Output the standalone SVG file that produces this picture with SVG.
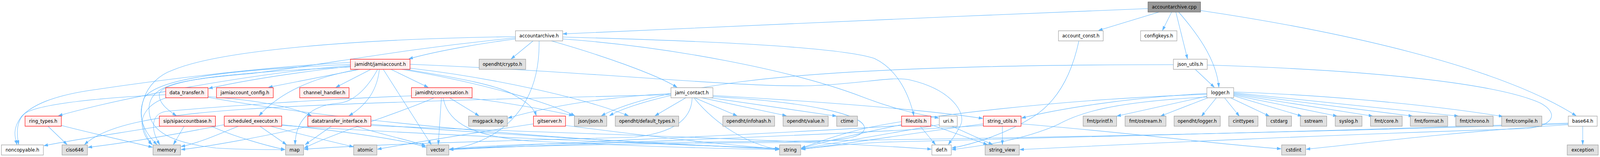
<svg xmlns="http://www.w3.org/2000/svg" width="4538" height="403" viewBox="0 0 4538 403" preserveAspectRatio="none">
<style>
:root{width:100vw;height:100vh}
.e{fill:none;stroke:#63b8ff;stroke-width:1.1;marker-end:url(#a)}
.n rect{stroke-width:1.2}
.w rect{fill:#ffffff;stroke:#999999}
.g rect{fill:#e0e0e0;stroke:#999999}
.r rect{fill:#fff0f0;stroke:#ff0000}
.root rect{fill:#999999;stroke:#666666}
text{font-family:"DejaVu Sans","Liberation Sans",sans-serif;font-size:13px;fill:#000;text-anchor:middle}
</style>
<defs>
<marker id="a" viewBox="0 0 12 8" refX="11" refY="4" markerWidth="12" markerHeight="8" markerUnits="userSpaceOnUse" orient="auto">
<path d="M0,0.5 L11,4 L0,7.5 z" fill="#63b8ff" stroke="#63b8ff"/>
</marker>
</defs>
<rect width="4538" height="403" fill="#ffffff"/>
<g id="edges">
<path class="e" d="M3256,22 C2700,42 2100,66 1597,87"/>
<path class="e" d="M3287,31 L3116,78"/>
<path class="e" d="M3323,31 L3297,78"/>
<path class="e" d="M3335,31 L3368,151"/>
<path class="e" d="M3343,31 C3390,80 3450,150 3457,224"/>
<path class="e" d="M3405,27 C3800,80 4250,170 4470,297"/>
<path class="e" d="M1462,100 C1350,113 1230,133 1160,151"/>
<path class="e" d="M1512,105 L1450,151"/>
<path class="e" d="M1529,105 C1532,260 1440,360 1274,384"/>
<path class="e" d="M1564,105 C1700,140 1860,190 1920,224"/>
<path class="e" d="M1596,95 C2000,105 2380,120 2480,150 C2550,180 2580,250 2592,297"/>
<path class="e" d="M1462,94 C1000,100 620,130 490,180 C410,205 370,290 430,371"/>
<path class="e" d="M1462,97 C1100,130 900,170 700,190 C500,205 430,220 423,273 C418,330 470,365 613,380 C700,385 760,384 808,384"/>
<path class="e" d="M1596,100 C1900,120 2250,180 2450,250 C2550,285 2620,295 2662,303"/>
<path class="e" d="M3060,105 C3040,190 3000,260 2930,300 C2850,345 2760,370 2700,380"/>
<path class="e" d="M3390,178 L3444,224"/>
<path class="e" d="M3328,166 C2900,166 2400,175 2100,210 C1900,235 1780,262 1706,297"/>
<path class="e" d="M3424,167 C3900,180 4250,215 4370,265 C4420,290 4410,322 4330,330 C3800,345 3200,370 2893,384"/>
<path class="e" d="M3423,247 L3168,298"/>
<path class="e" d="M3426,251 L3292,298"/>
<path class="e" d="M3450,251 L3408,298"/>
<path class="e" d="M3473,251 L3515,298"/>
<path class="e" d="M3490,251 L3600,298"/>
<path class="e" d="M3499,246 L3692,298"/>
<path class="e" d="M3499,244 L3792,298"/>
<path class="e" d="M3499,242 L3893,298"/>
<path class="e" d="M3499,240 L4006,298"/>
<path class="e" d="M3499,238 L4136,298"/>
<path class="e" d="M3499,236 C3800,245 4100,275 4262,299"/>
<path class="e" d="M3423,240 C3200,250 3000,280 2898,303"/>
<path class="e" d="M3423,242 C3000,255 2600,300 2450,330 C2380,345 2320,365 2273,380"/>
<path class="e" d="M3423,249 C3150,262 3060,290 3000,320 C2900,360 2780,375 2700,384"/>
<path class="e" d="M4489,324 L4489,371"/>
<path class="e" d="M4448,320 C4100,340 3850,370 3705,383"/>
<path class="e" d="M4448,316 C3800,335 3000,355 2500,365 C2400,370 2320,378 2273,383"/>
<path class="e" d="M4448,318 C3500,345 2500,362 1800,366 C1500,368 1350,375 1275,383"/>
<path class="e" d="M2610,324 L2653,371"/>
<path class="e" d="M2640,320 L2800,371"/>
<path class="e" d="M2557,320 C2450,340 2330,365 2273,381"/>
<path class="e" d="M2557,322 C2200,345 1500,368 1275,384"/>
<path class="e" d="M2700,324 L2815,371"/>
<path class="e" d="M2664,320 C2500,345 2350,370 2273,382"/>
<path class="e" d="M2843,324 L2843,371"/>
<path class="e" d="M2789,318 C2600,340 2400,370 2273,383"/>
<path class="e" d="M2789,322 C2300,350 1600,370 1275,384"/>
<path class="e" d="M2896,318 C3200,340 3450,370 3633,382"/>
<path class="e" d="M1513,318 C1350,340 1150,370 1071,383"/>
<path class="e" d="M1604,322 C1800,345 2050,372 2209,382"/>
<path class="e" d="M1231,251 C1150,285 950,340 863,380"/>
<path class="e" d="M1252,251 L1243,371"/>
<path class="e" d="M1257,251 C1270,320 1350,350 1500,362 C1800,375 2050,382 2209,384"/>
<path class="e" d="M1275,251 L1358,297"/>
<path class="e" d="M1326,251 C1450,265 1570,285 1625,297"/>
<path class="e" d="M1167,246 C900,255 600,275 470,286 C430,292 425,330 453,371"/>
<path class="e" d="M994,170 C850,185 700,205 592,227"/>
<path class="e" d="M994,160 C700,175 420,210 270,230 C150,245 90,270 60,300 C35,330 42,352 48,371"/>
<path class="e" d="M994,168 C700,190 350,250 166,297"/>
<path class="e" d="M994,172 C700,185 470,200 452,240 C448,265 480,285 500,297"/>
<path class="e" d="M994,165 C650,180 450,200 410,250 C385,300 410,340 445,371"/>
<path class="e" d="M1020,178 L762,224"/>
<path class="e" d="M1052,178 L953,224"/>
<path class="e" d="M1017,178 C880,200 790,240 735,297"/>
<path class="e" d="M1071,178 C1040,230 1000,262 960,265 C880,270 838,310 837,371"/>
<path class="e" d="M1076,178 C1070,230 1040,270 990,297"/>
<path class="e" d="M1087,178 L1223,371"/>
<path class="e" d="M1109,178 L1214,224"/>
<path class="e" d="M1151,178 C1300,200 1420,220 1460,245 C1500,265 1515,280 1521,297"/>
<path class="e" d="M1140,178 C1350,210 1550,260 1630,297"/>
<path class="e" d="M1163,175 C1400,200 1650,250 1782,297"/>
<path class="e" d="M1163,165 C1700,185 2100,225 2300,220 C2450,215 2530,195 2580,205 C2700,230 2740,290 2725,320 C2712,345 2698,360 2690,371"/>
<path class="e" d="M470,243 C300,250 120,265 72,290 C45,310 47,345 53,371"/>
<path class="e" d="M472,251 C420,265 395,300 405,330 C410,350 420,362 432,371"/>
<path class="e" d="M590,248 C700,255 820,270 883,297"/>
<path class="e" d="M591,250 C900,300 1500,360 2209,381"/>
<path class="e" d="M136,324 L190,371"/>
<path class="e" d="M174,322 C250,340 350,360 432,378"/>
<path class="e" d="M455,324 C350,340 200,360 125,374"/>
<path class="e" d="M522,324 L492,371"/>
<path class="e" d="M600,324 C660,350 760,375 808,384"/>
<path class="e" d="M737,324 L812,371"/>
<path class="e" d="M768,324 C850,345 950,365 1002,377"/>
<path class="e" d="M799,320 C1000,340 1150,360 1208,378"/>
<path class="e" d="M676,324 C620,345 560,368 514,376"/>
<path class="e" d="M636,320 C500,345 350,368 250,378"/>
<path class="e" d="M799,322 C1200,345 1800,368 2209,381"/>
<path class="e" d="M940,324 L866,371"/>
<path class="e" d="M876,324 C750,350 600,375 514,384"/>
<path class="e" d="M1010,324 C1080,345 1170,362 1207,374"/>
<path class="e" d="M1052,319 C1400,345 1900,370 2209,383"/>
<path class="e" d="M1052,322 C1500,340 2200,355 2641,383"/>
<path class="e" d="M1945,251 L1858,297"/>
<path class="e" d="M1970,251 L2090,297"/>
<path class="e" d="M1990,251 L2230,297"/>
<path class="e" d="M2015,251 L2372,298"/>
<path class="e" d="M1968,251 C2030,320 2120,370 2209,384"/>
<path class="e" d="M1903,245 C1830,260 1760,280 1729,297"/>
<path class="e" d="M1903,240 C1700,250 1550,275 1441,303"/>
<path class="e" d="M1903,243 C1600,250 1000,262 700,280 C450,295 300,320 240,371"/>
<path class="e" d="M1963,251 C1962,300 1920,340 1800,352 C1500,360 1100,368 863,383"/>
<path class="e" d="M2022,248 C2300,262 2455,295 2452,330 C2448,355 2380,364 2200,366 C1800,368 1400,376 1275,383"/>
<path class="e" d="M2022,245 C2400,265 2650,285 2787,304"/>
</g>
<g id="n_cpp" class="n root"><rect x="3256" y="5" width="149" height="26"/><text x="3330.5" y="22.5">accountarchive.cpp</text></g>
<g id="n_aah" class="n w"><rect x="1462" y="79" width="134" height="26"/><text x="1529" y="96.5">accountarchive.h</text></g>
<g id="n_acc" class="n w"><rect x="3002" y="79" width="127" height="26"/><text x="3065.5" y="96.5">account_const.h</text></g>
<g id="n_cfg" class="n w"><rect x="3235" y="79" width="103" height="26"/><text x="3286.5" y="96.5">configkeys.h</text></g>
<g id="n_ja" class="n r"><rect x="994" y="152" width="169" height="26"/><text x="1078.5" y="169.5">jamidht/jamiaccount.h</text></g>
<g id="n_crypto" class="n g"><rect x="1359" y="152" width="132" height="26"/><text x="1425" y="169.5">opendht/crypto.h</text></g>
<g id="n_ju" class="n w"><rect x="3328" y="152" width="96" height="26"/><text x="3376" y="169.5">json_utils.h</text></g>
<g id="n_dt" class="n r"><rect x="470" y="225" width="120" height="26"/><text x="530" y="242.5">data_transfer.h</text></g>
<g id="n_jac" class="n r"><rect x="614" y="225" width="161" height="26"/><text x="694.5" y="242.5">jamiaccount_config.h</text></g>
<g id="n_ch" class="n r"><rect x="850" y="225" width="140" height="26"/><text x="920" y="242.5">channel_handler.h</text></g>
<g id="n_conv" class="n r"><rect x="1167" y="225" width="172" height="26"/><text x="1253" y="242.5">jamidht/conversation.h</text></g>
<g id="n_jc" class="n w"><rect x="1903" y="225" width="119" height="26"/><text x="1962.5" y="242.5">jami_contact.h</text></g>
<g id="n_log" class="n w"><rect x="3423" y="225" width="76" height="26"/><text x="3461" y="242.5">logger.h</text></g>
<g id="n_rt" class="n r"><rect x="71" y="298" width="103" height="26"/><text x="122.5" y="315.5">ring_types.h</text></g>
<g id="n_sab" class="n r"><rect x="452" y="298" width="159" height="26"/><text x="531.5" y="315.5">sip/sipaccountbase.h</text></g>
<g id="n_se" class="n r"><rect x="636" y="298" width="163" height="26"/><text x="717.5" y="315.5">scheduled_executor.h</text></g>
<g id="n_dti" class="n r"><rect x="873" y="298" width="179" height="26"/><text x="962.5" y="315.5">datatransfer_interface.h</text></g>
<g id="n_msg" class="n g"><rect x="1329" y="298" width="110" height="26"/><text x="1384" y="315.5">msgpack.hpp</text></g>
<g id="n_git" class="n r"><rect x="1513" y="298" width="91" height="26"/><text x="1558.5" y="315.5">gitserver.h</text></g>
<g id="n_json" class="n g"><rect x="1629" y="298" width="92" height="26"/><text x="1675" y="315.5">json/json.h</text></g>
<g id="n_dft" class="n g"><rect x="1745" y="298" width="180" height="26"/><text x="1835" y="315.5">opendht/default_types.h</text></g>
<g id="n_ih" class="n g"><rect x="2050" y="298" width="147" height="26"/><text x="2123.5" y="315.5">opendht/infohash.h</text></g>
<g id="n_val" class="n g"><rect x="2221" y="298" width="128" height="26"/><text x="2285" y="315.5">opendht/value.h</text></g>
<g id="n_ctime" class="n g"><rect x="2373" y="298" width="59" height="26"/><text x="2402.5" y="315.5">ctime</text></g>
<g id="n_fu" class="n r"><rect x="2557" y="298" width="83" height="26"/><text x="2598.5" y="315.5">fileutils.h</text></g>
<g id="n_uri" class="n w"><rect x="2664" y="298" width="51" height="26"/><text x="2689.5" y="315.5">uri.h</text></g>
<g id="n_su" class="n r"><rect x="2789" y="298" width="107" height="26"/><text x="2842.5" y="315.5">string_utils.h</text></g>
<g id="n_fp" class="n g"><rect x="3072" y="298" width="95" height="26"/><text x="3119.5" y="315.5">fmt/printf.h</text></g>
<g id="n_fo" class="n g"><rect x="3191" y="298" width="116" height="26"/><text x="3249" y="315.5">fmt/ostream.h</text></g>
<g id="n_ol" class="n g"><rect x="3330" y="298" width="131" height="26"/><text x="3395.5" y="315.5">opendht/logger.h</text></g>
<g id="n_cit" class="n g"><rect x="3485" y="298" width="83" height="26"/><text x="3526.5" y="315.5">cinttypes</text></g>
<g id="n_csa" class="n g"><rect x="3592" y="298" width="71" height="26"/><text x="3627.5" y="315.5">cstdarg</text></g>
<g id="n_ss" class="n g"><rect x="3688" y="298" width="75" height="26"/><text x="3725.5" y="315.5">sstream</text></g>
<g id="n_sys" class="n g"><rect x="3787" y="298" width="76" height="26"/><text x="3825" y="315.5">syslog.h</text></g>
<g id="n_fc" class="n g"><rect x="3887" y="298" width="90" height="26"/><text x="3932" y="315.5">fmt/core.h</text></g>
<g id="n_ff" class="n g"><rect x="4000" y="298" width="106" height="26"/><text x="4053" y="315.5">fmt/format.h</text></g>
<g id="n_fch" class="n g"><rect x="4129" y="298" width="106" height="26"/><text x="4182" y="315.5">fmt/chrono.h</text></g>
<g id="n_fcp" class="n g"><rect x="4259" y="298" width="114" height="26"/><text x="4316" y="315.5">fmt/compile.h</text></g>
<g id="n_b64" class="n w"><rect x="4448" y="298" width="82" height="26"/><text x="4489" y="315.5">base64.h</text></g>
<g id="n_nc" class="n w"><rect x="4" y="372" width="119" height="26"/><text x="63.5" y="389.5">noncopyable.h</text></g>
<g id="n_ciso" class="n g"><rect x="176" y="372" width="72" height="26"/><text x="212" y="389.5">ciso646</text></g>
<g id="n_mem" class="n g"><rect x="434" y="372" width="78" height="26"/><text x="473" y="389.5">memory</text></g>
<g id="n_map" class="n g"><rect x="810" y="372" width="51" height="26"/><text x="835.5" y="389.5">map</text></g>
<g id="n_atom" class="n g"><rect x="1003" y="372" width="66" height="26"/><text x="1036" y="389.5">atomic</text></g>
<g id="n_vec" class="n g"><rect x="1210" y="372" width="63" height="26"/><text x="1241.5" y="389.5">vector</text></g>
<g id="n_str" class="n g"><rect x="2211" y="372" width="60" height="26"/><text x="2241" y="389.5">string</text></g>
<g id="n_def" class="n w"><rect x="2643" y="372" width="55" height="26"/><text x="2670.5" y="389.5">def.h</text></g>
<g id="n_sv" class="n g"><rect x="2794" y="372" width="97" height="26"/><text x="2842.5" y="389.5">string_view</text></g>
<g id="n_cint" class="n g"><rect x="3635" y="372" width="68" height="26"/><text x="3669" y="389.5">cstdint</text></g>
<g id="n_exc" class="n g"><rect x="4445" y="372" width="88" height="26"/><text x="4489" y="389.5">exception</text></g>
</svg>
